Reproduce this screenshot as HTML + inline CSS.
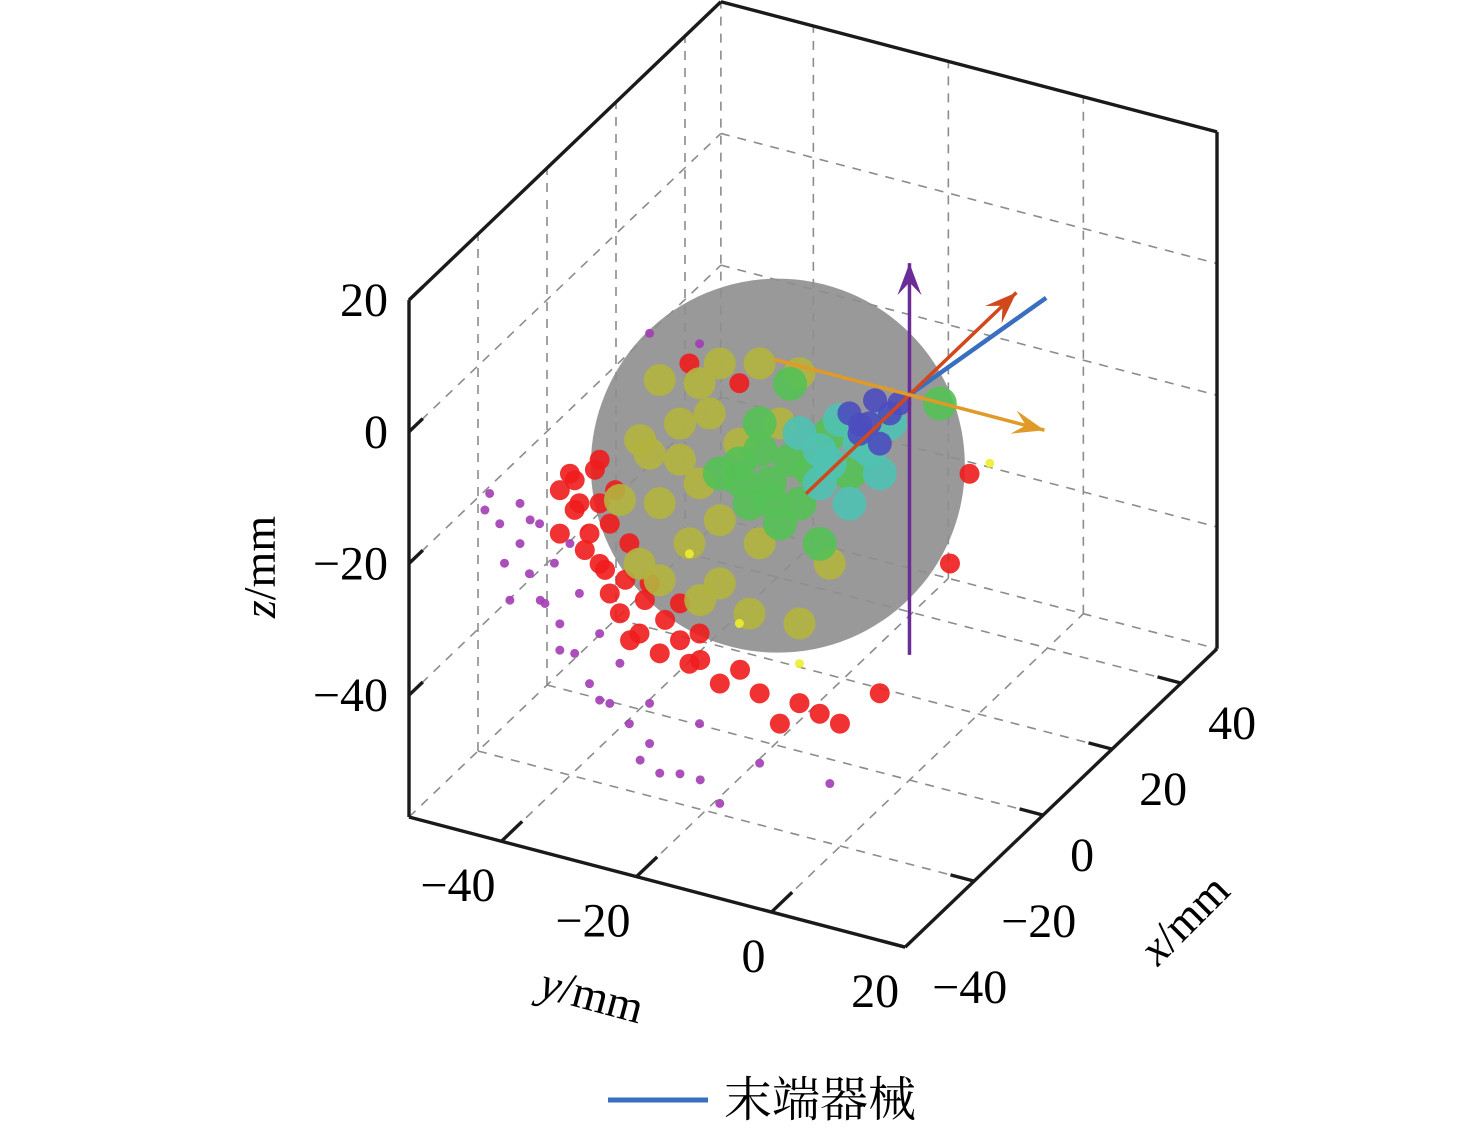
<!DOCTYPE html>
<html><head><meta charset="utf-8"><style>
body{margin:0;background:#fff}
svg{display:block;font-family:"Liberation Serif","Noto Serif CJK SC",serif}
</style></head><body>
<svg id="chart" width="1476" height="1131" viewBox="0 0 1476 1131" xmlns="http://www.w3.org/2000/svg">
<g id="grid"></g>
<g id="box"></g>
<g id="sphere"></g>
<g id="pts"></g>
<g id="arrows"></g>
<g id="labels"></g>
<text x="0" y="0" transform="translate(275,567) rotate(-90)" text-anchor="middle" font-size="46"><tspan font-style="italic">z</tspan>/mm</text>
<text x="0" y="0" transform="translate(588,1010) rotate(15)" text-anchor="middle" font-size="46"><tspan font-style="italic">y</tspan>/mm</text>
<text x="0" y="0" transform="translate(1195,930) rotate(-45)" text-anchor="middle" font-size="46"><tspan font-style="italic">x</tspan>/mm</text>
<g>
<line x1="608" y1="1100" x2="708" y2="1100" stroke="#3a6fc0" stroke-width="5"/>
<text x="724" y="1116" font-size="48" font-family="'Liberation Serif','Noto Serif CJK SC',serif">末端器械</text>
</g>
</svg>
<script>
const xTicks=[-40,-20,0,20,40];
const yTicks=[-40,-20,0,20];
const zTicks=[-40,-20,0,20];
const xRange=[-40,50.4];
const yRange=[-53.7,19.8];
const zRange=[-58.5,20];
const purpleY=[-62.2,-60.7,-57.7,-56.3,-54.0,-51.8,-49.6,-47.4,-44.4,-41.5,-38.5,-34.0,-57.7,-54.8,-52.6,-48.9,-45.9,-42.9,-38.5,-31.1,-28.1,-22.2,-11.8,-60.0,-50.3,-37.0,-38.5,-31.1,-62.9,-59.2,-56.2,-51.8,-45.9,-39.9,-31.0,-54.7];
const purpleZ=[-31.7,-35.9,-38.1,-42.3,-46.2,-48.7,-52.6,-56.6,-58.8,-61.1,-63.3,-66.7,-32.0,-34.3,-39.7,-43.3,-48.6,-52.3,-57.2,-58.3,-69.6,-61.9,-62.2,-41.7,-36.1,-67.4,-1.0,-0.6,-34.4,-47.1,-34.1,-52.7,-58.7,-66.2,-66.8,-45.9];
const redY=[-50.3,-48.9,-47.4,-45.9,-44.4,-42.9,-40.0,-37.0,-32.6,-28.1,-22.2,-16.3,-10.3,-4.4,-19.2,-13.3,-45.9,-41.5,-38.5,-34.0,-31.1,-51.8,-44.4,8.9,6.0,-32.6,-25.2,-49.6,-46.6,-43.6,-48.1,-45.1,-42.1,-39.2,-36.2,-49.6,-41.4,-34.0,-31.0,-25.1,-45.9,-51.8];
const redZ=[-25.5,-29.6,-33.8,-38.0,-42.1,-44.7,-47.0,-49.2,-49.6,-51.4,-51.3,-51.2,-52.7,-46.5,-55.1,-52.0,-28.8,-33.7,-39.0,-40.8,-44.6,-35.0,-31.5,-9.6,-24.0,-4.0,-5.0,-26.3,-23.9,-26.2,-36.5,-38.7,-39.4,-41.7,-43.9,-30.8,-48.4,-46.4,-48.6,-48.5,-22.2,-28.4];
const oliveY=[-38.5,-34.0,-31.1,-28.1,-22.2,-16.3,-37.0,-32.6,-28.1,-23.7,-31.1,-25.2,-19.2,-40.0,-16.3,-11.8,-29.6,-22.2,-37.0,-39.9,-31.0,-37.0,-34.0,-28.1,-42.9];
const oliveZ=[-19.3,-13.5,-6.6,-2.8,-1.2,-1.1,-26.4,-31.3,-36.2,-39.6,-21.8,-14.2,-9.5,-36.4,-39.1,-28.8,-10.8,-28.5,-7.7,-17.6,-39.5,-38.1,-19.0,-26.6,-27.5];
const greenY=[-25.2,-20.7,-16.3,-22.2,-17.7,-28.1,-19.2,-13.3,-23.7,-8.9,-11.8,4.5,-22.1,-17.7,-25.1,-14.7,-20.7];
const greenZ=[-17.2,-19.0,-20.9,-10.3,-3.1,-19.5,-24.7,-26.2,-22.9,-14.3,-9.1,-0.1,-14.3,-14.7,-19.7,-15.4,-21.5];
const cyanY=[-16.3,-11.8,-7.4,-4.4,-8.9,-13.3,-2.9,-10.3,-5.9,-13.3];
const cyanZ=[-10.2,-13.6,-9.4,-13.1,-18.9,-17.0,-5.1,-6.6,-10.0,-12.0];
const blueY=[-8.9,-5.9,-2.9,-4.4,-1.5,-7.4,-7.3,-5.1];
const blueZ=[-5.2,-5.9,-3.6,-8.6,-1.7,-7.9,-6.5,-2.2];
const yellowY=[11.9,-32.6,-25.2,-16.3];
const yellowZ=[-7.2,-32.9,-41.5,-45.2];
const sphereCenter=[0,-19.5,-16];
const sphereRadius=28.4;
const arrowZ=[-39.5,20];
const arrowX=[-30,31];
const arrowY=[-20,20];
const effectorEnd=[31.6,4.1,0];

const NS="http://www.w3.org/2000/svg";
function P(x,y,z){
  return [409+(x-xRange[0])*3.45+(y-yRange[0])*6.75,
          817-(x-xRange[0])*3.3+(y-yRange[0])*1.77-(z-zRange[0])*6.585];
}
function mk(tag,attrs,parent){const e=document.createElementNS(NS,tag);for(const k in attrs)e.setAttribute(k,attrs[k]);parent.appendChild(e);return e;}
function line(a,b,parent,stroke,w,dash){
  const e=mk('line',{x1:a[0],y1:a[1],x2:b[0],y2:b[1],stroke:stroke,'stroke-width':w},parent);
  if(dash)e.setAttribute('stroke-dasharray',dash);
  return e;
}
const grid=document.getElementById('grid');
const [x0,x1]=xRange,[y0,y1]=yRange,[z0,z1]=zRange;
const G='#8c8c8c',D='9,8';
yTicks.filter(v=>v<y1).concat([y0]).forEach(v=>{const l=line(P(x1,v,z0),P(x1,v,z1),grid,G,1.6,D);

});
zTicks.filter(v=>v<z1).concat([z0]).forEach(v=>{const l=line(P(x1,y0,v),P(x1,y1,v),grid,G,1.6,D);

});
xTicks.forEach(v=>{const l=line(P(v,y0,z0),P(v,y0,z1),grid,G,1.6,D);

});
zTicks.filter(v=>v<z1).concat([z0]).forEach(v=>{const l=line(P(x0,y0,v),P(x1,y0,v),grid,G,1.6,D);

});
xTicks.forEach(v=>{const l=line(P(v,y0,z0),P(v,y1,z0),grid,G,1.6,D);

});
yTicks.filter(v=>v<y1).forEach(v=>{const l=line(P(x0,v,z0),P(x1,v,z0),grid,G,1.6,D);

});

const box=document.getElementById('box');
const K='#1a1a1a';
[[P(x0,y0,z0),P(x0,y0,z1)],[P(x0,y0,z1),P(x1,y0,z1)],[P(x1,y0,z1),P(x1,y1,z1)],[P(x1,y1,z1),P(x1,y1,z0)],
 [P(x0,y0,z0),P(x0,y1,z0)],[P(x0,y1,z0),P(x1,y1,z0)]].forEach(s=>{const l=line(s[0],s[1],box,K,3.4);

});
zTicks.forEach(v=>{const l=line(P(x0,y0,v),P(x0+4,y0,v),box,K,3.4);

});
yTicks.filter(v=>v<y1).forEach(v=>{const l=line(P(x0,v,z0),P(x0+6,v,z0),box,K,3.4);

});
xTicks.forEach(v=>{const l=line(P(v,y1,z0),P(v,y1-3.5,z0),box,K,3.4);

});

const labels=document.getElementById('labels');
function fmt(v){return v<0?'\u2212'+Math.abs(v):String(v);}
zTicks.forEach(v=>{const p=P(x0,y0,v);const t=mk('text',{x:388,y:p[1]+16,'text-anchor':'end','font-size':48},labels);t.textContent=fmt(v);

});
yTicks.forEach(v=>{const p=P(x0,Math.min(v,y1),z0);const t=mk('text',{x:p[0]-6,y:p[1]+60,'text-anchor':'end','font-size':48},labels);t.textContent=fmt(v);

});
xTicks.forEach(v=>{const p=P(v,y1,z0);const t=mk('text',{x:p[0]+27,y:p[1]+56,'text-anchor':'start','font-size':48},labels);t.textContent=fmt(v);

});

const sph=document.getElementById('sphere');
const sc=P(sphereCenter[0],sphereCenter[1],sphereCenter[2]);
const sEl=mk('circle',{cx:sc[0],cy:sc[1],r:sphereRadius*6.585,fill:'#8e8e8e','fill-opacity':0.9},sph);



const pts=document.getElementById('pts');
function scatter(ys,zs,color,r,name){
  ys.forEach((y,i)=>{const p=P(0,y,zs[i]);
    const c=mk('circle',{cx:p[0],cy:p[1],r:r,fill:color,'fill-opacity':0.9},pts);
    
    
  });
}
scatter(purpleY,purpleZ,'#a23cb4',4.5,'point-purple');
scatter(redY,redZ,'#f01c1c',10,'point-red');
scatter(oliveY,oliveZ,'#b3b43e',16,'point-olive');
scatter(greenY,greenZ,'#55c155',17,'point-green');
scatter(cyanY,cyanZ,'#4fc2b2',17,'point-cyan');
scatter(blueY,blueZ,'#4c4cbf',12,'point-blue');
scatter(yellowY,yellowZ,'#eeee30',4.5,'point-yellow');

const ar=document.getElementById('arrows');
function arrow(a,b,color,name){
  const l=line(a,b,ar,color,3.5);
  
  
  const dx=b[0]-a[0],dy=b[1]-a[1],L=Math.hypot(dx,dy),ux=dx/L,uy=dy/L,h=32,w=12;
  const bx=b[0]-ux*h,by=b[1]-uy*h,mx=b[0]-ux*h*0.6,my=b[1]-uy*h*0.6;
  const pg=mk('polygon',{points:`${b[0]},${b[1]} ${bx-uy*w},${by+ux*w} ${mx},${my} ${bx+uy*w},${by-ux*w}`,fill:color},ar);
  
  
}
const eff=line(P(0,0,0),P(effectorEnd[0],effectorEnd[1],effectorEnd[2]),ar,'#3a6fc0',4.5);


arrow(P(0,0,arrowZ[0]),P(0,0,arrowZ[1]),'#6a2c96','z-arrow');
arrow(P(arrowX[0],0,0),P(arrowX[1],0,0),'#d0481c','x-arrow');
arrow(P(0,arrowY[0],0),P(0,arrowY[1],0),'#e09a28','y-arrow');
</script>
</body></html>
